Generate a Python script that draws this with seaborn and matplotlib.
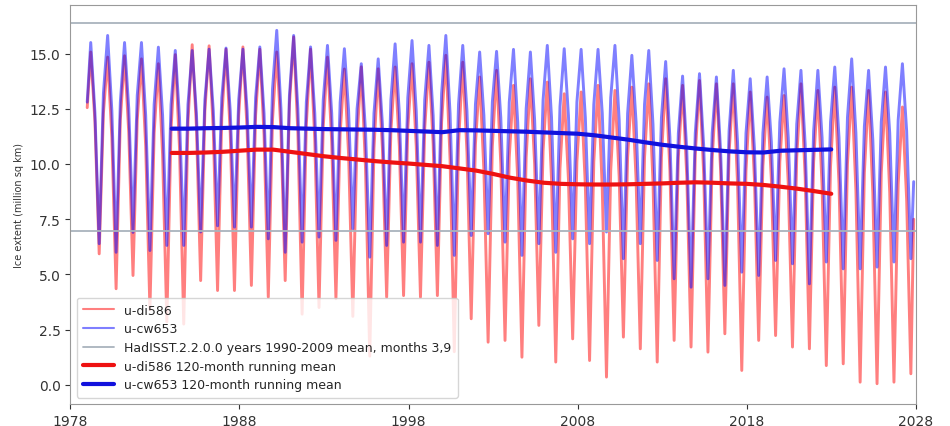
#%% Loading libraries
import numpy as np
import pandas as pd
import seaborn as sns
import matplotlib
matplotlib.use("Agg")
import matplotlib.pyplot as plt

#%% Data (million sq km)
years = list(range(1979, 2028))

# March maxima
di586_mar = [15.07, 14.84, 14.90, 14.76, 14.54, 14.95, 15.40, 15.35, 15.20, 15.30,
             15.20, 15.07, 15.75, 15.20, 14.84, 14.30, 14.40, 14.31, 14.39, 14.54,
             14.61, 14.92, 14.61, 13.94, 14.24, 13.56, 13.86, 13.71, 13.18, 13.26,
             13.56, 13.33, 13.48, 13.63, 13.86, 13.56, 13.78, 13.63, 13.63, 13.26,
             13.03, 13.10, 13.63, 13.33, 13.48, 13.48, 13.33, 13.26, 12.58]
cw653_mar = [15.50, 15.82, 15.50, 15.50, 15.29, 15.14, 15.14, 15.20, 15.25, 15.20,
             15.30, 16.05, 15.82, 15.30, 15.37, 15.22, 14.54, 14.76, 15.44, 15.59,
             15.37, 15.82, 15.37, 15.07, 15.10, 15.19, 15.07, 15.37, 15.22, 15.19,
             15.19, 15.37, 14.92, 15.14, 14.64, 13.98, 14.09, 13.94, 14.24, 13.86,
             13.94, 14.31, 14.24, 14.24, 14.39, 14.76, 14.24, 14.39, 14.54]

# June (estimated, the strokes are nearly vertical here)
di586_jun = [11.9, 11.2, 11.4, 10.8, 10.4, 10.7, 11.7, 11.5, 11.4, 11.5,
             11.3, 11.5, 11.4, 11.1, 11.0, 10.4, 9.8, 10.7, 10.8, 10.8,
             10.9, 10.2, 10.5, 9.7, 10.0, 9.3, 10.0, 9.3, 9.3, 9.0,
             8.9, 9.4, 9.3, 9.2, 9.7, 9.4, 9.5, 9.7, 9.1, 9.3,
             9.3, 9.1, 9.4, 9.0, 9.1, 8.8, 8.7, 8.7, 8.4]
cw653_jun = [12.3, 12.4, 12.5, 12.2, 12.2, 12.1, 12.3, 12.4, 12.4, 12.4,
             12.3, 12.5, 12.5, 12.3, 12.3, 12.4, 11.5, 11.8, 12.3, 12.4,
             12.2, 12.3, 12.4, 12.2, 12.1, 11.9, 12.0, 12.1, 12.2, 12.1,
             12.3, 12.0, 11.9, 11.8, 11.2, 10.6, 10.8, 10.6, 11.0, 10.7,
             11.0, 11.2, 10.9, 11.2, 11.2, 11.4, 11.1, 11.4, 11.5]

# September minima
di586_sep = [5.93, 4.35, 4.95, 3.40, 2.85, 2.75, 4.72, 4.27, 4.27, 4.50,
             3.97, 4.72, 3.20, 3.50, 3.90, 3.10, 1.30, 3.97, 4.04, 3.97,
             4.04, 1.50, 2.99, 1.93, 2.01, 1.25, 2.69, 1.03, 2.08, 1.10,
             0.35, 2.16, 1.63, 1.03, 2.01, 1.71, 1.48, 2.31, 0.65, 2.01,
             2.23, 1.71, 1.63, 0.87, 0.95, 0.12, 0.05, 0.12, 0.50]
cw653_sep = [6.39, 6.00, 6.90, 6.08, 6.31, 6.31, 6.92, 7.20, 7.14, 7.14,
             6.61, 6.00, 6.46, 6.69, 6.54, 7.07, 5.78, 6.31, 6.46, 6.46,
             6.31, 5.86, 6.76, 6.84, 6.46, 5.86, 6.39, 6.00, 6.61, 6.39,
             6.92, 5.71, 6.39, 5.63, 4.80, 4.42, 4.80, 4.50, 5.10, 4.95,
             5.63, 5.48, 4.57, 5.56, 5.25, 5.25, 5.33, 5.56, 5.71]

# December (estimated), 1979-2026
di586_dec = [12.3, 12.0, 12.0, 11.4, 11.6, 11.9, 12.4, 12.1, 12.2, 12.2,
             12.0, 12.7, 11.8, 11.7, 11.4, 11.2, 10.7, 11.5, 11.6, 11.6,
             11.9, 10.9, 10.9, 10.8, 10.3, 10.3, 10.6, 9.8, 10.1, 10.1,
             9.7, 10.3, 10.3, 10.3, 10.3, 10.4, 10.2, 10.5, 9.7, 9.9,
             10.1, 10.3, 10.1, 9.9, 10.0, 9.6, 9.6, 9.1]
cw653_dec = [13.2, 12.8, 13.1, 12.7, 12.7, 12.7, 12.9, 13.0, 12.9, 13.0,
             13.4, 13.1, 12.8, 12.9, 12.8, 12.5, 12.3, 12.9, 13.0, 12.9,
             13.2, 12.7, 12.7, 12.8, 12.8, 12.5, 12.9, 12.6, 12.8, 12.7,
             13.0, 12.3, 12.7, 12.1, 11.4, 11.4, 11.4, 11.5, 11.4, 11.4,
             11.9, 11.8, 11.5, 11.9, 12.1, 11.7, 11.9, 12.0]

# first (Jan 1979) and last (Nov 2027) values
di586_ends = [12.55, 7.5]
cw653_ends = [12.80, 9.2]

# 120-month running means, yearly
rm_years = list(range(1984, 2024))
di586_rm = [10.50, 10.50, 10.52, 10.55, 10.60, 10.65, 10.65, 10.55, 10.45, 10.35,
            10.27, 10.20, 10.13, 10.07, 10.02, 9.96, 9.90, 9.80, 9.70, 9.55,
            9.38, 9.25, 9.15, 9.10, 9.08, 9.07, 9.07, 9.08, 9.10, 9.12,
            9.15, 9.17, 9.15, 9.12, 9.10, 9.05, 8.97, 8.88, 8.77, 8.65]
cw653_rm = [11.60, 11.60, 11.62, 11.63, 11.65, 11.68, 11.67, 11.62, 11.60, 11.58,
            11.57, 11.56, 11.55, 11.53, 11.50, 11.47, 11.44, 11.53, 11.52, 11.50,
            11.48, 11.46, 11.43, 11.40, 11.37, 11.30, 11.20, 11.10, 10.98, 10.87,
            10.78, 10.70, 10.63, 10.57, 10.53, 10.52, 10.60, 10.62, 10.64, 10.66]

# HadISST 1990-2009 mean, months 3 and 9
hadisst = [16.39, 6.97]

#%% Building tables
def seasonal(mar, jun, sep, dec, ends):
    t = [1979.0]
    v = [ends[0]]
    for i, y in enumerate(years):
        t += [y + 2.5 / 12, y + 5.5 / 12, y + 8.5 / 12]
        v += [mar[i], jun[i], sep[i]]
        if i < len(dec):
            t.append(y + 11.5 / 12)
            v.append(dec[i])
    t.append(2027 + 10.5 / 12)
    v.append(ends[1])
    return pd.DataFrame({"time": t, "extent": v})

di586 = seasonal(di586_mar, di586_jun, di586_sep, di586_dec, di586_ends)
cw653 = seasonal(cw653_mar, cw653_jun, cw653_sep, cw653_dec, cw653_ends)
running = pd.DataFrame({"time": np.array(rm_years) + 0.0,
                        "di586": di586_rm, "cw653": cw653_rm})

#%% Theming
sns.set_style("ticks")
plt.rcParams["font.family"] = ["DejaVu Sans"]

fig = plt.figure(figsize=(9.5, 4.27), dpi=100)
ax = fig.add_axes([0.074, 0.052, 0.89, 0.934])

# Plotting data
sns.lineplot(data=di586, x="time", y="extent", color="red", alpha=0.5,
             lw=2.1, label="u-di586", ax=ax)
sns.lineplot(data=cw653, x="time", y="extent", color="blue", alpha=0.5,
             lw=2.1, label="u-cw653", ax=ax)
for i, h in enumerate(hadisst):
    ax.axhline(h, color="#a9b3bd", lw=1.3,
               label="HadISST.2.2.0.0 years 1990-2009 mean, months 3,9" if i == 0 else None)
sns.lineplot(data=running, x="time", y="di586", color="#ee1111", lw=3,
             label="u-di586 120-month running mean", ax=ax)
sns.lineplot(data=running, x="time", y="cw653", color="#1111dd", lw=3,
             label="u-cw653 120-month running mean", ax=ax)

ax.set_xlim(1978, 2028)
ax.set_ylim(-0.86, 17.2)
ax.set_xticks(range(1978, 2029, 10))
ax.set_yticks(np.arange(0, 15.1, 2.5))
ax.set_yticklabels([f"{t:.1f}" for t in np.arange(0, 15.1, 2.5)])
ax.tick_params(labelsize=10, colors="#333333")
ax.set_xlabel("")
ax.set_ylabel("Ice extent (million sq km)", fontsize=7, color="#333333")
for s in ax.spines.values():
    s.set_color("#999999")

leg = ax.legend(loc="lower left", fontsize=9, frameon=True, framealpha=0.8,
                borderpad=0.5, labelspacing=0.45, handlelength=2.5)
for line in leg.get_lines()[:2]:
    line.set_linewidth(1.5)

plt.savefig("out.png", dpi=100)
